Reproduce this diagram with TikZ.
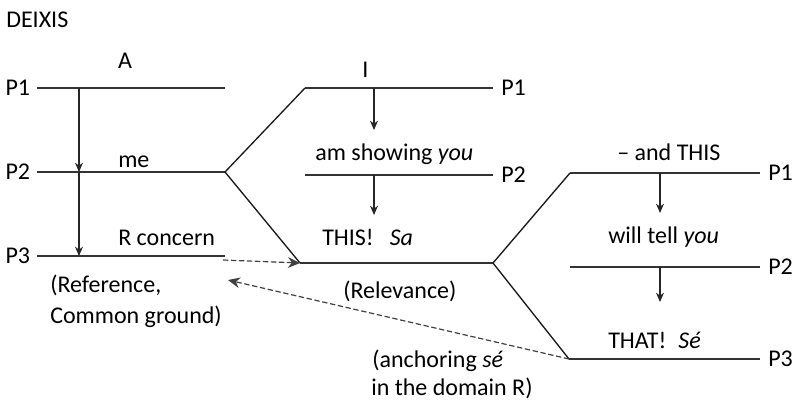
\documentclass[tikz,border=0pt]{standalone}
\usepackage{fontspec}
\setmainfont{Carlito}
\usetikzlibrary{arrows.meta}

\begin{document}
\begin{tikzpicture}[x=0.75pt,y=-0.75pt,
    txt/.style={anchor=base west,inner sep=0pt,font=\fontsize{18}{22}\selectfont},
    plabel/.style={inner sep=0pt,font=\fontsize{18}{22}\selectfont},
    level/.style={draw=black!80,line width=1pt},
    branch/.style={draw=black!90,line width=1pt},
    drop/.style={draw=black!85,line width=0.8pt,-{Stealth[length=7pt,width=6pt]}},
    link/.style={draw=black!75,line width=0.9pt,dash pattern=on 4pt off 2pt,
      -{Stealth[length=9pt,width=8pt]}}]
  \useasboundingbox (0,0) rectangle (803,407);

  % Title
  \node[txt] (title) at (6,27) {DEIXIS};

  % Level lines: left, middle, right
  \coordinate (A1) at (37,88);   \coordinate (A1e) at (225,88);
  \coordinate (A2) at (37,172);  \coordinate (A2e) at (225,172);
  \coordinate (A3) at (37,256);  \coordinate (A3e) at (225,256);
  \coordinate (B1) at (305,88);  \coordinate (B1e) at (493,88);
  \coordinate (B2) at (305,175); \coordinate (B2e) at (493,175);
  \coordinate (B3) at (300,263); \coordinate (B3e) at (493,263);
  \coordinate (C1) at (570,173); \coordinate (C1e) at (760,173);
  \coordinate (C2) at (570,267); \coordinate (C2e) at (760,267);
  \coordinate (C3) at (569,359); \coordinate (C3e) at (760,359);
  \foreach \p in {A1,A2,A3,B1,B2,B3,C1,C2,C3}
    \draw[level] (\p) -- (\p e);

  % P labels
  \foreach \p/\t in {A1/P1,A2/P2,A3/P3}
    \node[plabel,anchor=east] (lab\p) at ([xshift=-5pt]\p) {\t};
  \foreach \p/\t in {B1/P1,B2/P2,C1/P1,C2/P2,C3/P3}
    \node[plabel,anchor=west] (lab\p) at ([xshift=6pt]\p e) {\t};

  % Branches between the blocks
  \draw[branch] (B1) -- (A2e) -- (B3);
  \draw[branch] (C1) -- (B3e) -- (C3);

  % Downward steps
  \coordinate (ax) at (79,0);
  \coordinate (bx) at (374,0);
  \coordinate (cx) at (660,0);
  \draw[drop] (ax |- A1) -- (ax |- A2);
  \draw[drop] (ax |- A2) -- (ax |- A3);
  \draw[drop] (bx |- B1) -- (bx |- 0,130);
  \draw[drop] (bx |- B2) -- (bx |- 0,215);
  \draw[drop] (cx |- C1) -- (cx |- 0,213);
  \draw[drop] (cx |- C2) -- (cx |- 0,302);

  % Dashed links
  \coordinate (s1) at (223,260);
  \coordinate (r1) at (228,280);
  \draw[link] (s1) -- (B3);
  \draw[link] (C3) -- (r1);

  % Left block texts
  \node[txt,anchor=base] (speaker) at (125,68) {A};
  \node[txt] (me) at (118,167) {me};
  \node[txt] (concern) at (118,245) {R concern};
  \node[txt] (ref) at (50,292) {(Reference,};
  \node[txt] (common) at (50,323) {Common ground)};

  % Middle block texts
  \node[txt] (I) at (362,77) {I};
  \node[txt] (showing) at (315,160) {am showing \textit{you}};
  \node[txt] (this) at (322,245) {THIS!\hspace{12pt}\textit{Sa}};
  \node[txt] (relevance) at (343,298) {(Relevance)};

  % Right block texts
  \node[txt] (andthis) at (617,160) {-- and THIS};
  \node[txt] (tell) at (608,243) {will tell \textit{you}};
  \node[txt] (that) at (608,348) {THAT!\hspace{9pt}\textit{Sé}};
  \node[txt] (anchor) at (372,367) {(anchoring \textit{sé}};
  \node[txt] (domain) at (371,395) {in the domain R)};
\end{tikzpicture}
\end{document}
